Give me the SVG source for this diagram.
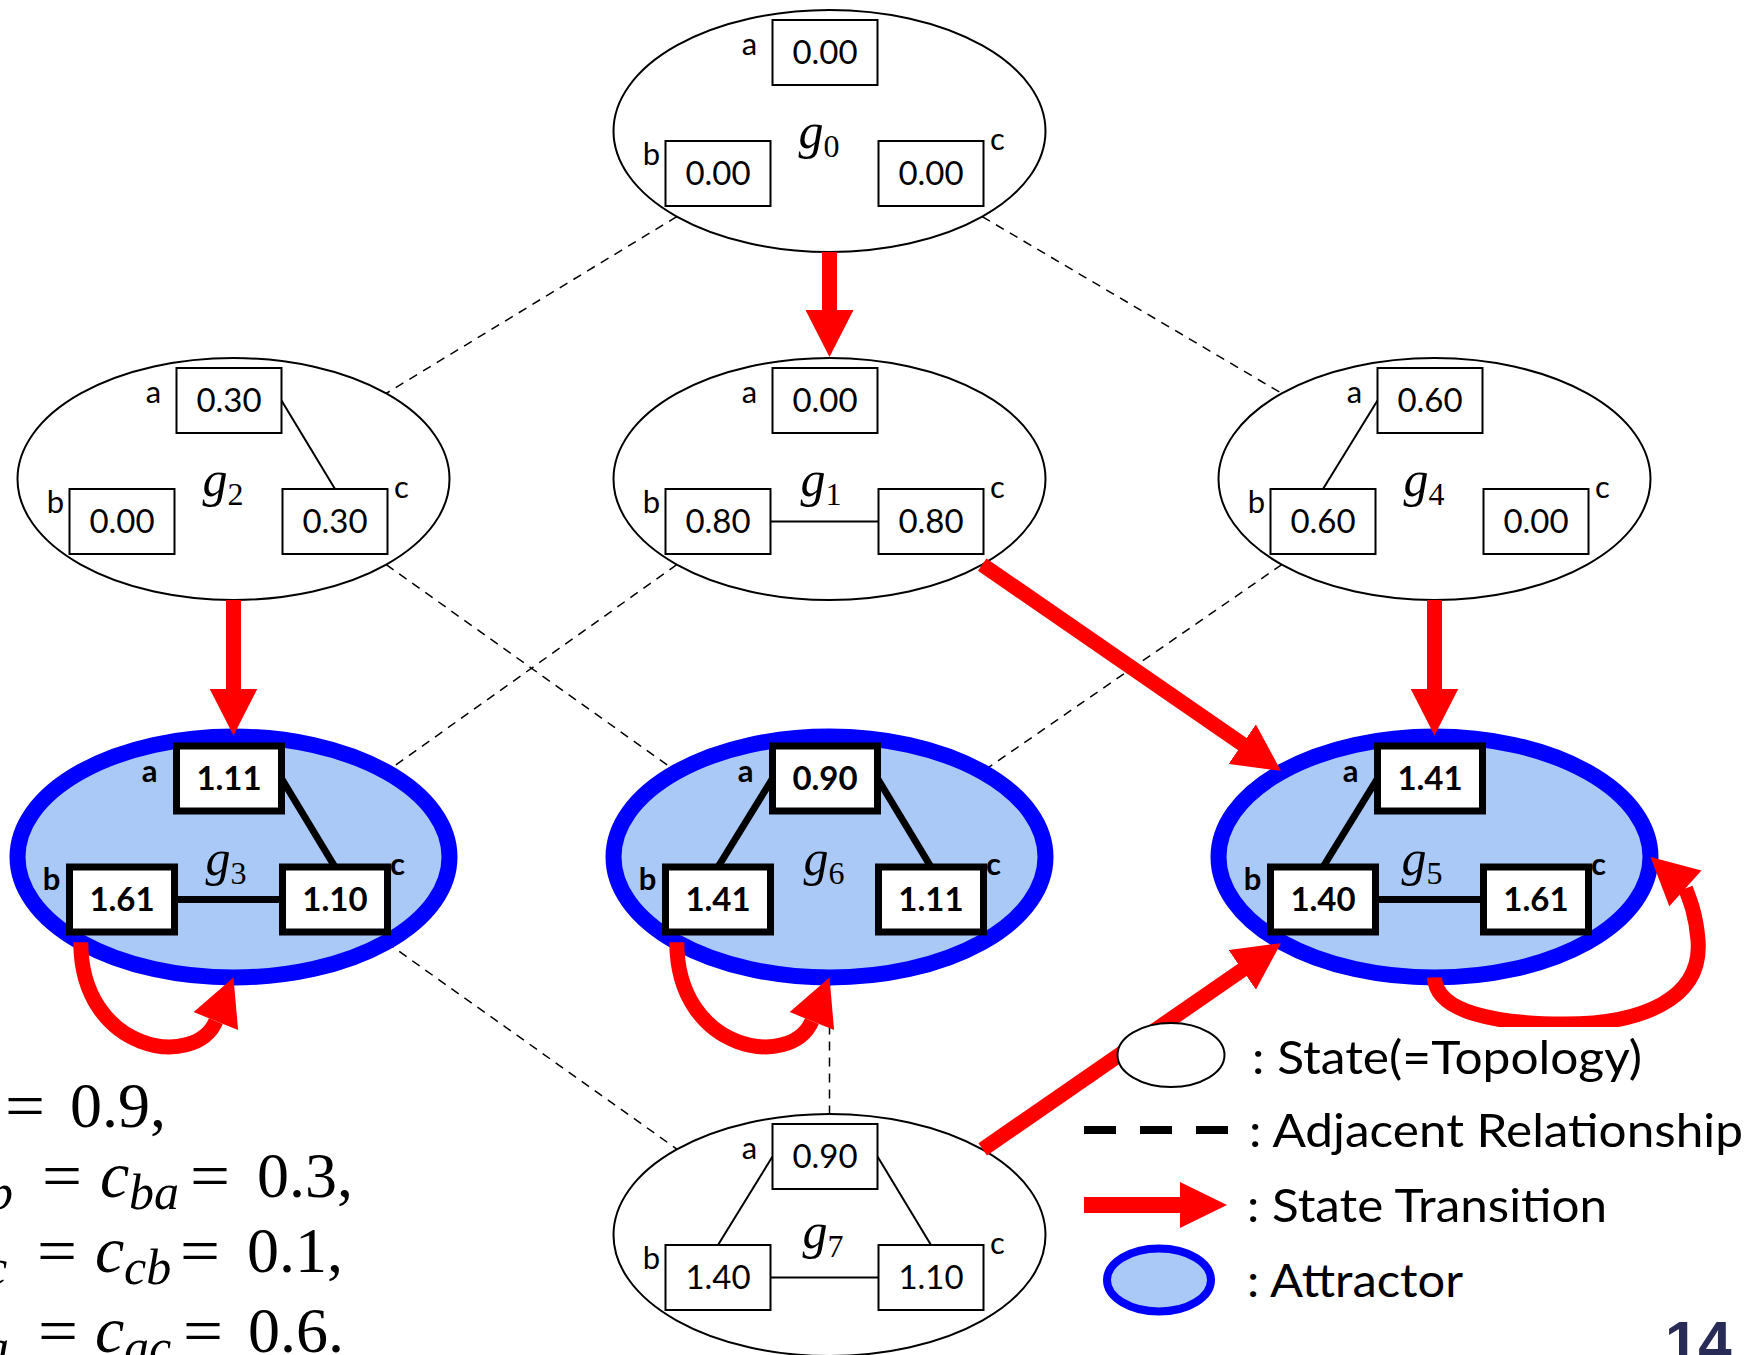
<svg xmlns="http://www.w3.org/2000/svg" width="1752" height="1355" viewBox="0 0 1752 1355">
  <defs>
    <style>
      .st { fill:#ffffff; stroke:#000000; stroke-width:2; }
      .at { fill:#aac9f6; stroke:#0000ff; stroke-width:16; }
      .bx { fill:#ffffff; stroke:#000000; stroke-width:2; }
      .bxb { fill:#ffffff; stroke:#000000; stroke-width:7; }
      .ln { stroke:#000000; stroke-width:2; fill:none; }
      .lnb { stroke:#000000; stroke-width:7; fill:none; }
      .val { font-family:Lato, "Noto Sans", sans-serif; font-size:33px; text-anchor:middle; fill:#000; }
      .valb { font-family:Lato, "Noto Sans", sans-serif; font-size:33px; font-weight:bold; text-anchor:middle; fill:#000; }
      .lab { font-family:Lato, "Noto Sans", sans-serif; font-size:31px; text-anchor:middle; fill:#000; }
      .labb { font-family:Lato, "Noto Sans", sans-serif; font-size:31px; font-weight:bold; text-anchor:middle; fill:#000; }
      .gl { font-family:"Liberation Serif", serif; font-style:italic; font-size:50px; fill:#000; }
      .sub { font-style:normal; font-size:32px; }
      .adj { stroke:#000000; stroke-width:1.5; stroke-dasharray:9 7; fill:none; }
      .tr { stroke:#ff0000; stroke-width:15; fill:none; }
      .head { fill:#ff0000; }
      .eq { font-family:"Liberation Serif", serif; font-size:64px; fill:#000; }
      .eqi { font-family:"Liberation Serif", serif; font-size:66px; font-style:italic; fill:#000; }
      .eqs { font-family:"Liberation Serif", serif; font-size:50px; font-style:italic; fill:#000; }
      .leg { font-family:Lato, "Noto Sans", sans-serif; font-size:47px; fill:#000; }
    </style>
    <marker id="ah" markerUnits="userSpaceOnUse" markerWidth="48" markerHeight="48" viewBox="0 0 48 48" refX="1" refY="24" orient="auto">
      <path d="M0,0 L47,24 L0,48 Z" fill="#ff0000"/>
    </marker>
    <clipPath id="loopClip">
      <rect x="1380" y="840" width="372" height="187"/>
    </clipPath>
  </defs>

  <rect x="0" y="0" width="1752" height="1355" fill="#ffffff"/>

  <!-- adjacency relations (dashed), drawn beneath the states -->
  <g id="adjacency">
    <line class="adj" x1="676.8" y1="216.6" x2="386.2" y2="393.4"/>
    <line class="adj" x1="982.2" y1="216.6" x2="1281.8" y2="393.4"/>
    <line class="adj" x1="386.2" y1="564.6" x2="676.8" y2="771.8"/>
    <line class="adj" x1="676.8" y1="564.6" x2="386.2" y2="771.8"/>
    <line class="adj" x1="1281.8" y1="564.6" x2="982.2" y2="771.8"/>
    <line class="adj" x1="386.2" y1="942.2" x2="677.3" y2="1149.4"/>
    <line class="adj" x1="829.5" y1="977.5" x2="829.5" y2="1114"/>
  </g>

  <!-- state g0 -->
  <g id="g0" transform="translate(829.5,131)">
    <ellipse class="st" cx="0" cy="0" rx="216" ry="121"/>
    <rect class="bx" x="-57" y="-111" width="105" height="65"/>
    <rect class="bx" x="-164" y="10" width="105" height="65"/>
    <rect class="bx" x="49" y="10" width="105" height="65"/>
    <text class="val" x="-4.5" y="-67">0.00</text>
    <text class="val" x="-111.5" y="54">0.00</text>
    <text class="val" x="101.5" y="54">0.00</text>
    <text class="lab" x="-80" y="-76">a</text>
    <text class="lab" x="-178" y="34">b</text>
    <text class="lab" x="168" y="19">c</text>
    <text class="gl" x="-31" y="17">g<tspan class="sub" dy="9">0</tspan></text>
  </g>

  <!-- state g2 -->
  <g id="g2" transform="translate(233.5,479)">
    <ellipse class="st" cx="0" cy="0" rx="216" ry="121"/>
    <line class="ln" x1="48" y1="-78.5" x2="101.5" y2="10"/>
    <rect class="bx" x="-57" y="-111" width="105" height="65"/>
    <rect class="bx" x="-164" y="10" width="105" height="65"/>
    <rect class="bx" x="49" y="10" width="105" height="65"/>
    <text class="val" x="-4.5" y="-67">0.30</text>
    <text class="val" x="-111.5" y="54">0.00</text>
    <text class="val" x="101.5" y="54">0.30</text>
    <text class="lab" x="-80" y="-76">a</text>
    <text class="lab" x="-178" y="34">b</text>
    <text class="lab" x="168" y="19">c</text>
    <text class="gl" x="-31" y="17">g<tspan class="sub" dy="9">2</tspan></text>
  </g>

  <!-- state g1 -->
  <g id="g1" transform="translate(829.5,479)">
    <ellipse class="st" cx="0" cy="0" rx="216" ry="121"/>
    <line class="ln" x1="-59" y1="42.5" x2="49" y2="42.5"/>
    <rect class="bx" x="-57" y="-111" width="105" height="65"/>
    <rect class="bx" x="-164" y="10" width="105" height="65"/>
    <rect class="bx" x="49" y="10" width="105" height="65"/>
    <text class="val" x="-4.5" y="-67">0.00</text>
    <text class="val" x="-111.5" y="54">0.80</text>
    <text class="val" x="101.5" y="54">0.80</text>
    <text class="lab" x="-80" y="-76">a</text>
    <text class="lab" x="-178" y="34">b</text>
    <text class="lab" x="168" y="19">c</text>
    <text class="gl" x="-29" y="17">g<tspan class="sub" dy="9">1</tspan></text>
  </g>

  <!-- state g4 -->
  <g id="g4" transform="translate(1434.5,479)">
    <ellipse class="st" cx="0" cy="0" rx="216" ry="121"/>
    <line class="ln" x1="-57" y1="-78.5" x2="-111.5" y2="10"/>
    <rect class="bx" x="-57" y="-111" width="105" height="65"/>
    <rect class="bx" x="-164" y="10" width="105" height="65"/>
    <rect class="bx" x="49" y="10" width="105" height="65"/>
    <text class="val" x="-4.5" y="-67">0.60</text>
    <text class="val" x="-111.5" y="54">0.60</text>
    <text class="val" x="101.5" y="54">0.00</text>
    <text class="lab" x="-80" y="-76">a</text>
    <text class="lab" x="-178" y="34">b</text>
    <text class="lab" x="168" y="19">c</text>
    <text class="gl" x="-31" y="17">g<tspan class="sub" dy="9">4</tspan></text>
  </g>

  <!-- attractor g3 -->
  <g id="g3" transform="translate(233.5,857)">
    <ellipse class="at" cx="0" cy="0" rx="216" ry="120.5"/>
    <line class="lnb" x1="48" y1="-78.5" x2="101.5" y2="10"/>
    <line class="lnb" x1="-59" y1="42.5" x2="49" y2="42.5"/>
    <rect class="bxb" x="-57" y="-111" width="105" height="65"/>
    <rect class="bxb" x="-164" y="10" width="105" height="65"/>
    <rect class="bxb" x="49" y="10" width="105" height="65"/>
    <text class="valb" x="-4.5" y="-67">1.11</text>
    <text class="valb" x="-111.5" y="54">1.61</text>
    <text class="valb" x="101.5" y="54">1.10</text>
    <text class="labb" x="-84" y="-75">a</text>
    <text class="labb" x="-182" y="33">b</text>
    <text class="labb" x="164" y="18">c</text>
    <text class="gl" x="-28" y="18">g<tspan class="sub" dy="9">3</tspan></text>
  </g>

  <!-- attractor g6 -->
  <g id="g6" transform="translate(829.5,857)">
    <ellipse class="at" cx="0" cy="0" rx="216" ry="120.5"/>
    <line class="lnb" x1="-57" y1="-78.5" x2="-111.5" y2="10"/>
    <line class="lnb" x1="48" y1="-78.5" x2="101.5" y2="10"/>
    <rect class="bxb" x="-57" y="-111" width="105" height="65"/>
    <rect class="bxb" x="-164" y="10" width="105" height="65"/>
    <rect class="bxb" x="49" y="10" width="105" height="65"/>
    <text class="valb" x="-4.5" y="-67">0.90</text>
    <text class="valb" x="-111.5" y="54">1.41</text>
    <text class="valb" x="101.5" y="54">1.11</text>
    <text class="labb" x="-84" y="-75">a</text>
    <text class="labb" x="-182" y="33">b</text>
    <text class="labb" x="164" y="18">c</text>
    <text class="gl" x="-26" y="18">g<tspan class="sub" dy="9">6</tspan></text>
  </g>

  <!-- attractor g5 -->
  <g id="g5" transform="translate(1434.5,857)">
    <ellipse class="at" cx="0" cy="0" rx="216" ry="120.5"/>
    <line class="lnb" x1="-57" y1="-78.5" x2="-111.5" y2="10"/>
    <line class="lnb" x1="-59" y1="42.5" x2="49" y2="42.5"/>
    <rect class="bxb" x="-57" y="-111" width="105" height="65"/>
    <rect class="bxb" x="-164" y="10" width="105" height="65"/>
    <rect class="bxb" x="49" y="10" width="105" height="65"/>
    <text class="valb" x="-4.5" y="-67">1.41</text>
    <text class="valb" x="-111.5" y="54">1.40</text>
    <text class="valb" x="101.5" y="54">1.61</text>
    <text class="labb" x="-84" y="-75">a</text>
    <text class="labb" x="-182" y="33">b</text>
    <text class="labb" x="164" y="18">c</text>
    <text class="gl" x="-33" y="18">g<tspan class="sub" dy="9">5</tspan></text>
  </g>

  <!-- state g7 -->
  <g id="g7" transform="translate(829.5,1235)">
    <ellipse class="st" cx="0" cy="0" rx="216" ry="121"/>
    <line class="ln" x1="-57" y1="-78.5" x2="-111.5" y2="10"/>
    <line class="ln" x1="48" y1="-78.5" x2="101.5" y2="10"/>
    <line class="ln" x1="-59" y1="42.5" x2="49" y2="42.5"/>
    <rect class="bx" x="-57" y="-111" width="105" height="65"/>
    <rect class="bx" x="-164" y="10" width="105" height="65"/>
    <rect class="bx" x="49" y="10" width="105" height="65"/>
    <text class="val" x="-4.5" y="-67">0.90</text>
    <text class="val" x="-111.5" y="54">1.40</text>
    <text class="val" x="101.5" y="54">1.10</text>
    <text class="lab" x="-80" y="-76">a</text>
    <text class="lab" x="-178" y="34">b</text>
    <text class="lab" x="168" y="19">c</text>
    <text class="gl" x="-27" y="13">g<tspan class="sub" dy="9">7</tspan></text>
  </g>

  <!-- state transitions -->
  <g id="transitions">
    <line class="tr" x1="829.5" y1="252" x2="829.5" y2="311" marker-end="url(#ah)"/>
    <line class="tr" x1="233.5" y1="600" x2="233.5" y2="689.5" marker-end="url(#ah)"/>
    <line class="tr" x1="1434.5" y1="600" x2="1434.5" y2="689.5" marker-end="url(#ah)"/>
    <line class="tr" x1="982.2" y1="564.6" x2="1243.1" y2="744.7" marker-end="url(#ah)"/>
    <line class="tr" x1="982.7" y1="1149.4" x2="1243.1" y2="969.3" marker-end="url(#ah)"/>
    <!-- self loops -->
    <path class="tr" d="M80.8,942.2 C80.8,1052 195,1070 215.9,1021.1"/>
    <polygon class="head" points="233.5,977.5 238.1,1030.1 193.7,1012.1"/>
    <path class="tr" d="M676.8,942.2 C676.8,1052 791,1070 811.9,1021.1"/>
    <polygon class="head" points="829.5,977.5 834.1,1030.1 789.7,1012.1"/>
    <path class="tr" clip-path="url(#loopClip)" d="M1434.5,977.5 C1436,1012 1495,1024 1565,1024 C1640,1024 1703,1000 1698,940 C1696,915 1690,900 1685.4,888.4"/>
    <polygon class="head" points="1650.5,857 1701.5,870.6 1669.3,906.2"/>
  </g>

  <!-- link costs -->
  <g id="costs">
    <text class="eq" x="5" y="1127" textLength="40" lengthAdjust="spacingAndGlyphs">=</text>
    <text class="eq" x="70" y="1127">0.9,</text>

    <text class="eqs" x="-12" y="1209">b</text>
    <text class="eq" x="42" y="1197" textLength="40" lengthAdjust="spacingAndGlyphs">=</text>
    <text class="eqi" x="100" y="1197">c</text>
    <text class="eqs" x="129" y="1209">ba</text>
    <text class="eq" x="190" y="1197" textLength="40" lengthAdjust="spacingAndGlyphs">=</text>
    <text class="eq" x="257" y="1197">0.3,</text>

    <text class="eqs" x="-15" y="1284">c</text>
    <text class="eq" x="37" y="1272" textLength="40" lengthAdjust="spacingAndGlyphs">=</text>
    <text class="eqi" x="95" y="1272">c</text>
    <text class="eqs" x="124" y="1284">cb</text>
    <text class="eq" x="180" y="1272" textLength="40" lengthAdjust="spacingAndGlyphs">=</text>
    <text class="eq" x="247" y="1272">0.1,</text>

    <text class="eqs" x="-16" y="1364">a</text>
    <text class="eq" x="38" y="1352" textLength="40" lengthAdjust="spacingAndGlyphs">=</text>
    <text class="eqi" x="95" y="1352">c</text>
    <text class="eqs" x="124" y="1364">ac</text>
    <text class="eq" x="183" y="1352" textLength="40" lengthAdjust="spacingAndGlyphs">=</text>
    <text class="eq" x="248" y="1352">0.6.</text>
  </g>

  <!-- legend -->
  <g id="legend">
    <ellipse class="st" cx="1171" cy="1055" rx="53.5" ry="32"/>
    <text class="leg" x="1252" y="1074" textLength="390" lengthAdjust="spacingAndGlyphs">: State(=Topology)</text>
    <line x1="1084" y1="1130" x2="1228" y2="1130" stroke="#000" stroke-width="8" stroke-dasharray="32 24"/>
    <text class="leg" x="1249" y="1147" textLength="494" lengthAdjust="spacingAndGlyphs">: Adjacent Relationship</text>
    <rect x="1084" y="1197" width="97" height="16" fill="#ff0000"/>
    <polygon points="1180,1182 1227,1205 1180,1228" fill="#ff0000"/>
    <text class="leg" x="1247" y="1222" textLength="360" lengthAdjust="spacingAndGlyphs">: State Transition</text>
    <ellipse class="at" cx="1159" cy="1280" rx="52" ry="31.5" style="stroke-width:8"/>
    <text class="leg" x="1247" y="1297" textLength="216" lengthAdjust="spacingAndGlyphs">: Attractor</text>
  </g>

  <text x="1665" y="1363" font-family="Liberation Sans, Arial, sans-serif" font-size="60" font-weight="bold" fill="#272b55">14</text>
</svg>
